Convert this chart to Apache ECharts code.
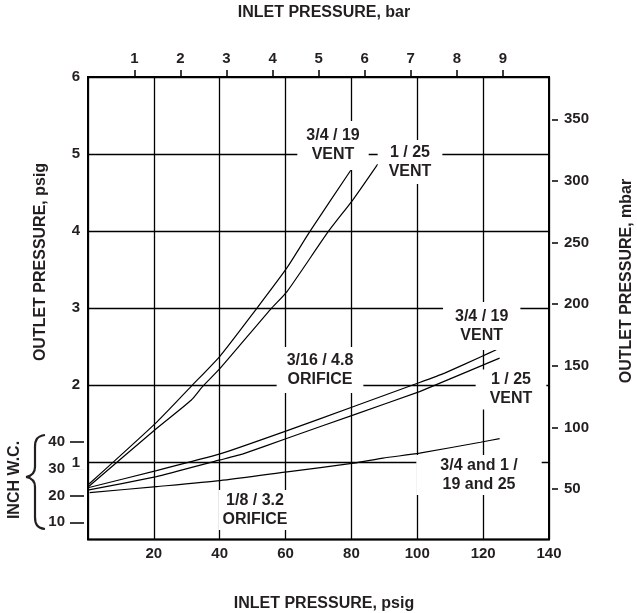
<!DOCTYPE html>
<html>
<head>
<meta charset="utf-8">
<script src="https://cdn.jsdelivr.net/npm/echarts@6/dist/echarts.min.js"></script>
<style>
html,body{margin:0;padding:0;background:#fff;}
#chart{width:637px;height:613px;}
</style>
</head>
<body>
<div id="chart"></div>
<script>
// ---- data (inlet psig, outlet psig) ----
const curveVent34Upper = [[0.3,0.72],[20.8,1.52],[31.4,1.99],[40.1,2.38],[51.1,2.99],[60.5,3.53],[67.3,3.99],[79.8,4.79]];
const curveVent1Upper  = [[0.3,0.69],[20.8,1.44],[31.4,1.81],[34.9,1.99],[40.1,2.22],[55.5,2.99],[60.5,3.22],[72.9,3.99],[80.5,4.41],[88.0,4.87]];
const curveVent34Mid   = [[0.3,0.675],[20.8,0.894],[40.1,1.11],[60.5,1.413],[80.7,1.725],[100.7,2.036],[108.3,2.158],[119.2,2.368],[124.0,2.461]];
const curveVent1Mid    = [[0.3,0.643],[20.8,0.816],[40.1,1.032],[47.1,1.11],[60.5,1.314],[80.7,1.617],[100.7,1.919],[119.2,2.249],[125.0,2.353]];
const curveBothLow     = [[0.5,0.608],[20.8,0.686],[40.1,0.764],[60.5,0.878],[80.7,0.99],[89.6,1.055],[100.7,1.12],[119.2,1.262],[125.0,1.309]];

// secondary scales (as drawn on the reference)
const barRange  = [1, 9];      // INLET PRESSURE, bar
const mbarRange = [50, 350];   // OUTLET PRESSURE, mbar
const inchRange = [10, 40];    // INCH W.C.

const FONT = '"Liberation Sans", Arial, Helvetica, sans-serif';
const TXT = '#231f20';

const chart = echarts.init(document.getElementById('chart'), null, {renderer:'canvas'});

function lineSeries(name, data, smooth){
  return {
    name, type:'line', data, xAxisIndex:0, yAxisIndex:0,
    symbol:'none', smooth: smooth, silent:true, z:3,
    lineStyle:{color:'#000', width:1.2}
  };
}

const labelBase = {fontFamily:FONT, fontWeight:'bold', fontSize:15, color:TXT};
const noLine = {show:false, onZero:false};
const hidden = (gi) => ({type:'value', gridIndex:gi, show:false, min:0, max:1, axisLine:{onZero:false}});

function annot(x, y, text, pad){
  return {
    type:'text', x, y, z:100,
    style:{
      text, font:'bold 16px ' + FONT, fill:TXT,
      align:'center', verticalAlign:'middle', lineHeight:19,
      backgroundColor:'#fff', padding:pad
    }
  };
}
function title(x, y, text, rot){
  return {
    type:'text', x, y, rotation: rot || 0, z:50,
    style:{ text, font:'bold 16px ' + FONT, fill:TXT, align:'center', verticalAlign:'middle' }
  };
}
function bez(x1,y1,cx1,cy1,cx2,cy2,x2,y2){
  return {type:'bezierCurve', z:50, shape:{x1,y1,cpx1:cx1,cpy1:cy1,cpx2:cx2,cpy2:cy2,x2,y2},
          style:{stroke:TXT, fill:null, lineWidth:2.2}};
}
function seg(x1,y1,x2,y2){
  return {type:'line', z:50, shape:{x1,y1,x2,y2}, style:{stroke:TXT, lineWidth:2.2}};
}

const option = {
  animation:false,
  backgroundColor:'#fff',
  grid:[
    {left:88, right:88, top:77, bottom:73.5, show:true, borderColor:'#000', borderWidth:2, backgroundColor:'transparent'},
    {left:134.4, right:134.1, top:77, bottom:73.5, show:false},
    {left:88, right:88, top:119.25, bottom:123.85, show:false},
    {left:88, right:88, top:441.9, bottom:90.7, show:false}
  ],
  xAxis:[
    {type:'value', gridIndex:0, position:'bottom', min:0, max:140, interval:20,
     axisLine:noLine, axisTick:{show:false},
     axisLabel:Object.assign({margin:7, showMinLabel:false}, labelBase),
     splitLine:{show:true, lineStyle:{color:'#000', width:1.3}}},
    {type:'value', gridIndex:1, position:'top', min:barRange[0], max:barRange[1], interval:1,
     axisLine:noLine,
     axisTick:{show:true, length:7, lineStyle:{color:'#000', width:1.5}},
     axisLabel:Object.assign({margin:11}, labelBase),
     splitLine:{show:false}},
    hidden(2),
    hidden(3)
  ],
  yAxis:[
    {type:'value', gridIndex:0, position:'left', min:0, max:6, interval:1, z:5,
     axisLine:noLine, axisTick:{show:false},
     axisLabel:Object.assign({margin:3, showMinLabel:false, backgroundColor:'#fff', padding:[0,5,0,2]}, labelBase),
     splitLine:{show:true, lineStyle:{color:'#000', width:1.3}}},
    hidden(1),
    {type:'value', gridIndex:2, position:'right', min:mbarRange[0], max:mbarRange[1], interval:50, offset:3,
     axisLine:noLine,
     axisTick:{show:true, length:6, lineStyle:{color:'#000', width:1.5}},
     axisLabel:Object.assign({margin:12}, labelBase),
     splitLine:{show:false}},
    {type:'value', gridIndex:3, position:'left', min:inchRange[0], max:inchRange[1], interval:10, offset:4, z:1,
     axisLine:noLine,
     axisTick:{show:true, length:14, lineStyle:{color:'#000', width:1.5}},
     axisLabel:Object.assign({margin:19}, labelBase),
     splitLine:{show:false}}
  ],
  series:[
    lineSeries('3/4 / 19 VENT (3/16 / 4.8 ORIFICE)', curveVent34Upper, 0.2),
    lineSeries('1 / 25 VENT (3/16 / 4.8 ORIFICE)', curveVent1Upper, 0.2),
    lineSeries('3/4 / 19 VENT (1/8 / 3.2 ORIFICE)', curveVent34Mid, 0.1),
    lineSeries('1 / 25 VENT (1/8 / 3.2 ORIFICE)', curveVent1Mid, 0.1),
    lineSeries('3/4 and 1 / 19 and 25', curveBothLow, 0.2)
  ],
  graphic:[
    title(324, 13, 'INLET PRESSURE, bar'),
    title(324, 604, 'INLET PRESSURE, psig'),
    title(41, 262, 'OUTLET PRESSURE, psig', Math.PI/2),
    title(627, 281, 'OUTLET PRESSURE, mbar', Math.PI/2),
    title(15, 480, 'INCH W.C.', Math.PI/2),
    bez(45,435, 37,436, 35,440, 35,447),
    seg(35,447, 35,467),
    bez(35,467, 35,473, 32,476, 26,477),
    bez(26,477, 32,478, 35,481, 35,487),
    seg(35,487, 35,517),
    bez(35,517, 35,524, 37,528, 45,529),
    annot(333, 145.5, '3/4 / 19\nVENT', [6,9,5,9]),
    annot(410, 162, '1 / 25\nVENT', [3,11,3,11]),
    annot(320, 370, '3/16 / 4.8\nORIFICE', [4,10,4,10]),
    annot(481.7, 326, '3/4 / 19\nVENT', [5,12,5,12]),
    annot(511, 389.5, '1 / 25\nVENT', [1,14,1,14]),
    annot(479, 475, '3/4 and 1 /\n19 and 25', [1,24,1,24]),
    annot(255, 510, '1/8 / 3.2\nORIFICE', [1,4,1,4])
  ]
};
chart.setOption(option);
</script>
</body>
</html>
